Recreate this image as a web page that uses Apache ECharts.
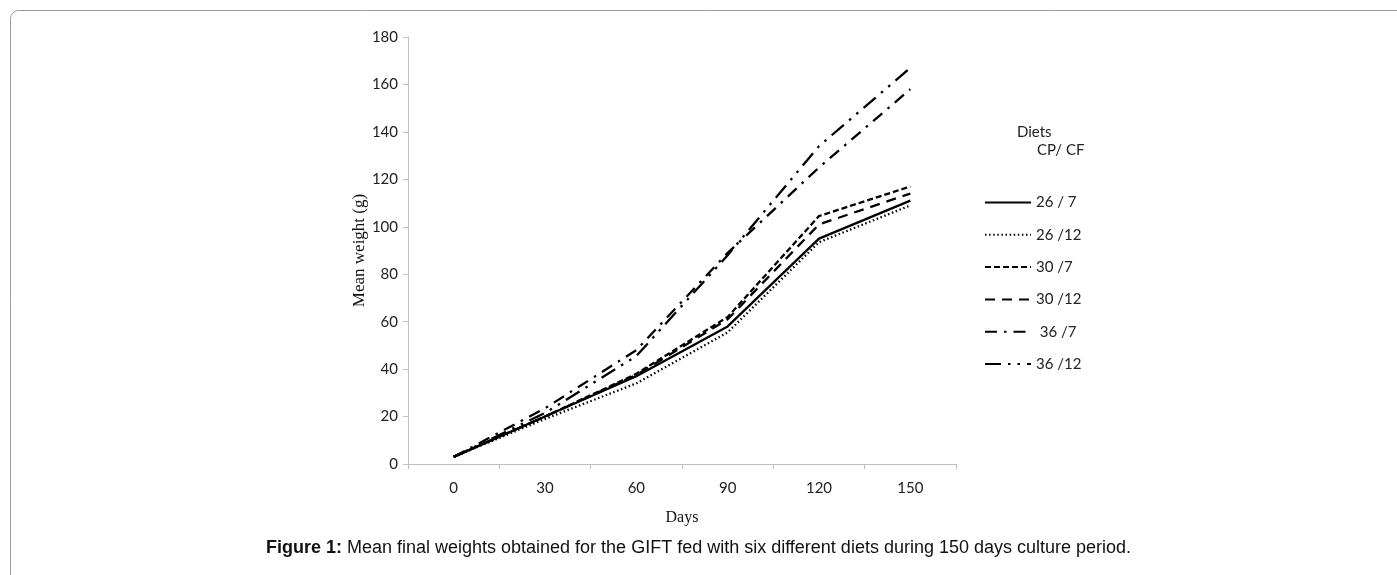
<!DOCTYPE html>
<html>
<head>
<meta charset="utf-8">
<script src="https://cdn.jsdelivr.net/npm/echarts@6/dist/echarts.min.js"></script>
<style>
html,body{margin:0;padding:0;background:#fff;}
#chart{width:1397px;height:575px;}
</style>
</head>
<body>
<div id="chart"></div>
<script>
const days = ['0', '30', '60', '90', '120', '150'];
const diet26_7  = [3, 20, 37, 58, 95, 111];
const diet26_12 = [3, 19, 34, 55.5, 93.5, 109];
const diet30_7  = [3, 20, 38, 62, 104.5, 117];
const diet30_12 = [3, 20, 37.5, 61, 101, 114];
const diet36_7  = [3, 23.5, 48, 89, 125, 158];
const diet36_12 = [3, 21.5, 45.5, 88, 134, 167];
const yTicks = { min: 0, max: 180, interval: 20 };

const seriesDefs = [
  { name: '26 / 7',  data: diet26_7,  type: 'solid' },
  { name: '26 /12',  data: diet26_12, type: [1.5, 2.6] },
  { name: '30 /7',   data: diet30_7,  type: [6, 3] },
  { name: '30 /12',  data: diet30_12, type: [10, 7] },
  { name: ' 36 /7',  data: diet36_7,  type: [12, 7, 2.5, 7] },
  { name: '36 /12',  data: diet36_12, type: [16, 7, 2.5, 7, 2.5, 7] }
];

const chart = echarts.init(document.getElementById('chart'));
const tickFont = 'Lato, "Open Sans", sans-serif';
const serif = '"Liberation Serif", "Times New Roman", serif';
chart.setOption({
  animation: false,
  backgroundColor: '#fff',
  grid: { left: 408, right: 441, top: 37, bottom: 111, containLabel: false },
  xAxis: {
    type: 'category',
    data: days,
    boundaryGap: true,
    name: 'Days',
    nameLocation: 'middle',
    nameGap: 46,
    nameTextStyle: { fontFamily: serif, fontSize: 16, color: '#111' },
    axisLine: { lineStyle: { color: '#bfbfbf', width: 1 } },
    axisTick: { show: true, length: 5, lineStyle: { color: '#bfbfbf' } },
    axisLabel: { margin: 17, fontFamily: tickFont, fontSize: 15, color: '#222' }
  },
  yAxis: {
    type: 'value',
    min: yTicks.min, max: yTicks.max, interval: yTicks.interval,
    name: 'Mean weight (g)',
    nameLocation: 'middle',
    nameGap: 34,
    nameRotate: 90,
    nameTextStyle: { fontFamily: serif, fontSize: 17, color: '#111' },
    axisLine: { show: true, lineStyle: { color: '#bfbfbf', width: 1 } },
    axisTick: { show: true, length: 5, lineStyle: { color: '#bfbfbf' } },
    splitLine: { show: false },
    axisLabel: { margin: 10, fontFamily: tickFont, fontSize: 15, color: '#222' }
  },
  legend: {
    orient: 'vertical',
    left: 979,
    top: 190,
    itemWidth: 46,
    itemHeight: 14,
    itemGap: 17.3,
    itemStyle: { opacity: 0 },
    textStyle: { fontFamily: tickFont, fontSize: 15, color: '#222' },
    data: seriesDefs.map(s => s.name)
  },
  graphic: [
    { type: 'rect', shape: { x: 10.5, y: 10.5, width: 1500, height: 700, r: 8 }, style: { fill: 'none', stroke: '#9a9a9a', lineWidth: 1 }, silent: true },
    { type: 'text', left: 1017, top: 125, style: { text: 'Diets', font: '15px Lato, "Open Sans", sans-serif', fill: '#222' } },
    { type: 'text', left: 1037, top: 143, style: { text: 'CP/ CF', font: '15px Lato, "Open Sans", sans-serif', fill: '#222' } },
    { type: 'text', left: 'center', top: 539, style: {
        text: '{b|Figure 1:} Mean final weights obtained for the GIFT fed with six different diets during 150 days culture period.',
        rich: { b: { fontWeight: 'bold', fontFamily: '"Liberation Sans", Arial, sans-serif', fontSize: 18, fill: '#111' } },
        font: '18px "Liberation Sans", Arial, sans-serif', fill: '#111' } }
  ],
  series: seriesDefs.map(s => ({
    name: s.name,
    type: 'line',
    data: s.data,
    symbol: 'none',
    color: '#000',
    lineStyle: { color: '#000', width: 2.3, type: s.type, cap: 'butt' }
  }))
});
</script>
</body>
</html>
